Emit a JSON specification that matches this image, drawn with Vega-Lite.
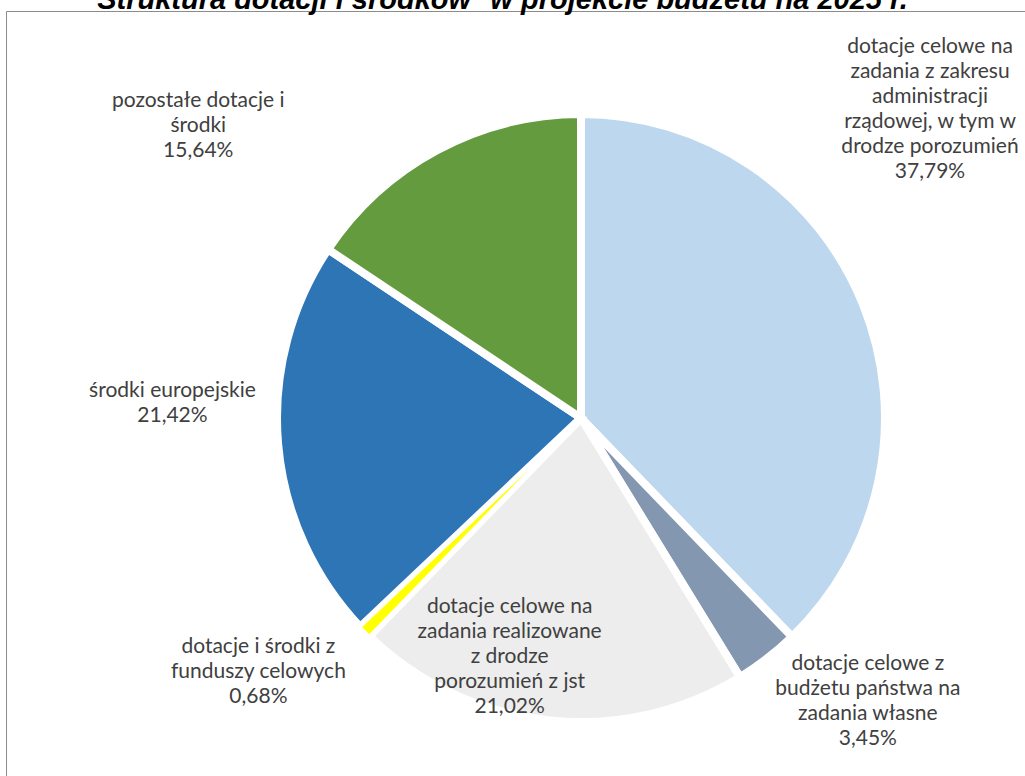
{
  "$schema": "https://vega.github.io/schema/vega-lite/v6.json",
  "autosize": {"type": "none"},
  "width": 1019,
  "height": 765,
  "padding": {"left": 6, "top": 11, "right": 0, "bottom": 0},
  "background": "white",
  "view": {"stroke": "#8c8c8c", "strokeWidth": 1},
  "title": {
    "text": "Struktura dotacji i środków* w projekcie budżetu na 2025 r.",
    "font": "Liberation Sans",
    "fontSize": 29,
    "fontWeight": "bold",
    "fontStyle": "italic",
    "color": "#000000",
    "anchor": "middle",
    "frame": "group",
    "dx": -13,
    "offset": -27,
    "baseline": "alphabetic"
  },
  "data": {
    "values": [
      {"order": 1, "name": "dotacje celowe na zadania z zakresu administracji rządowej, w tym w drodze porozumień", "value": 37.79, "label": "dotacje celowe na\nzadania z zakresu\nadministracji\nrządowej, w tym w\ndrodze porozumień\n37,79%"},
      {"order": 2, "name": "dotacje celowe z budżetu państwa na zadania własne", "value": 3.45, "label": "dotacje celowe z\nbudżetu państwa na\nzadania własne\n3,45%"},
      {"order": 3, "name": "dotacje celowe na zadania realizowane z drodze porozumień z jst", "value": 21.02, "label": "dotacje celowe na\nzadania realizowane\nz drodze\nporozumień z jst\n21,02%"},
      {"order": 4, "name": "dotacje i środki z funduszy celowych", "value": 0.68, "label": "dotacje i środki z\nfunduszy celowych\n0,68%"},
      {"order": 5, "name": "środki europejskie", "value": 21.42, "label": "środki europejskie\n21,42%"},
      {"order": 6, "name": "pozostałe dotacje i środki", "value": 15.64, "label": "pozostałe dotacje i\nśrodki\n15,64%"}
    ]
  },
  "encoding": {
    "theta": {"field": "value", "type": "quantitative", "stack": true},
    "order": {"field": "order", "type": "quantitative"}
  },
  "layer": [
    {
      "mark": {"type": "arc", "radius": 304, "stroke": "white", "strokeWidth": 8, "x": 575, "y": 407},
      "encoding": {
        "color": {
          "field": "name",
          "type": "nominal",
          "scale": {
            "domain": [
              "dotacje celowe na zadania z zakresu administracji rządowej, w tym w drodze porozumień",
              "dotacje celowe z budżetu państwa na zadania własne",
              "dotacje celowe na zadania realizowane z drodze porozumień z jst",
              "dotacje i środki z funduszy celowych",
              "środki europejskie",
              "pozostałe dotacje i środki"
            ],
            "range": ["#BDD7EE", "#8497B0", "#EDEDED", "#FFFF00", "#2E75B6", "#639B3E"]
          },
          "legend": null
        }
      }
    },
    {
      "mark": {"type": "arc", "radius": 304, "stroke": "white", "strokeWidth": 3, "x": 575, "y": 407},
      "encoding": {
        "color": {"field": "name", "type": "nominal", "legend": null},
        "opacity": {"condition": {"test": "datum.order === 4", "value": 1}, "value": 0}
      }
    },
    {
      "mark": {"type": "text", "x": 575, "y": 407, "radius": {"expr": "datum.order === 1 ? 440 : 0"}, "dx": -59, "dy": -206, "lineBreak": "\n", "align": "center", "baseline": "middle", "font": "Lato", "fontSize": 21, "lineHeight": 25, "fill": "#404040"},
      "encoding": {"text": {"condition": {"test": "datum.order === 1", "field": "label", "type": "nominal"}, "value": ""}}
    },
    {
      "mark": {"type": "text", "x": 575, "y": 407, "radius": {"expr": "datum.order === 2 ? 400 : 0"}, "dx": 42, "dy": -70, "lineBreak": "\n", "align": "center", "baseline": "middle", "font": "Lato", "fontSize": 21, "lineHeight": 25, "fill": "#404040"},
      "encoding": {"text": {"condition": {"test": "datum.order === 2", "field": "label", "type": "nominal"}, "value": ""}}
    },
    {
      "mark": {"type": "text", "x": 575, "y": 407, "radius": {"expr": "datum.order === 3 ? 240 : 0"}, "dx": -45, "dy": -50, "lineBreak": "\n", "align": "center", "baseline": "middle", "font": "Lato", "fontSize": 21, "lineHeight": 25, "fill": "#404040"},
      "encoding": {"text": {"condition": {"test": "datum.order === 3", "field": "label", "type": "nominal"}, "value": ""}}
    },
    {
      "mark": {"type": "text", "x": 575, "y": 407, "radius": {"expr": "datum.order === 4 ? 400 : 0"}, "dx": -38, "dy": -52, "lineBreak": "\n", "align": "center", "baseline": "middle", "font": "Lato", "fontSize": 21, "lineHeight": 25, "fill": "#404040"},
      "encoding": {"text": {"condition": {"test": "datum.order === 4", "field": "label", "type": "nominal"}, "value": ""}}
    },
    {
      "mark": {"type": "text", "x": 575, "y": 407, "radius": {"expr": "datum.order === 5 ? 410 : 0"}, "dx": 0, "dy": -62, "lineBreak": "\n", "align": "center", "baseline": "middle", "font": "Lato", "fontSize": 21, "lineHeight": 25, "fill": "#404040"},
      "encoding": {"text": {"condition": {"test": "datum.order === 5", "field": "label", "type": "nominal"}, "value": ""}}
    },
    {
      "mark": {"type": "text", "x": 575, "y": 407, "radius": {"expr": "datum.order === 6 ? 400 : 0"}, "dx": -194, "dy": 36, "lineBreak": "\n", "align": "center", "baseline": "middle", "font": "Lato", "fontSize": 21, "lineHeight": 25, "fill": "#404040"},
      "encoding": {"text": {"condition": {"test": "datum.order === 6", "field": "label", "type": "nominal"}, "value": ""}}
    }
  ]
}
